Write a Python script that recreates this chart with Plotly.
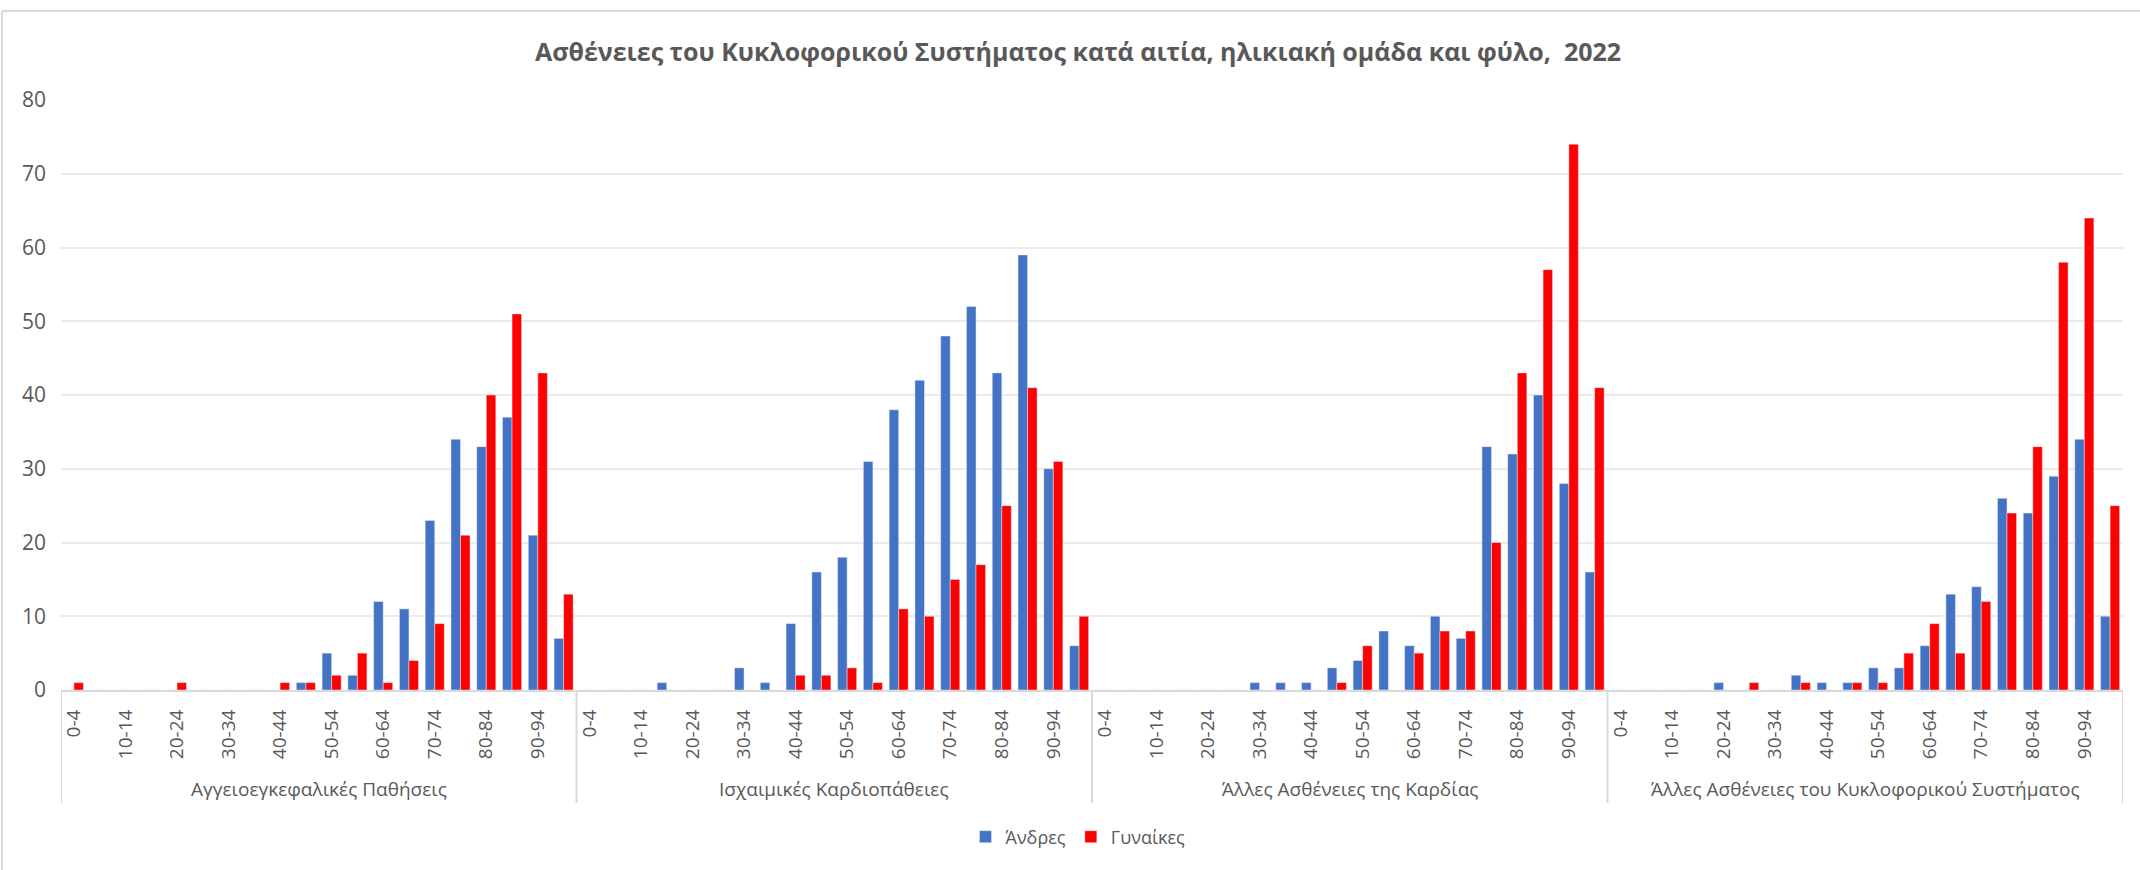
import plotly.graph_objects as go

# ---------------- data ----------------
ages = ["0-4", "5-9", "10-14", "15-19", "20-24", "25-29", "30-34", "35-39",
        "40-44", "45-49", "50-54", "55-59", "60-64", "65-69", "70-74",
        "75-79", "80-84", "85-89", "90-94", "95+"]

causes = ["Αγγειοεγκεφαλικές Παθήσεις",
          "Ισχαιμικές Καρδιοπάθειες",
          "Άλλες Ασθένειες της Καρδίας",
          "Άλλες Ασθένειες του Κυκλοφορικού Συστήματος"]

men_cerebro = [0, 0, 0, 0, 0, 0, 0, 0, 0, 1, 5, 2, 12, 11, 23, 34, 33, 37, 21, 7]
women_cerebro = [1, 0, 0, 0, 1, 0, 0, 0, 1, 1, 2, 5, 1, 4, 9, 21, 40, 51, 43, 13]

men_ischemic = [0, 0, 0, 1, 0, 0, 3, 1, 9, 16, 18, 31, 38, 42, 48, 52, 43, 59, 30, 6]
women_ischemic = [0, 0, 0, 0, 0, 0, 0, 0, 2, 2, 3, 1, 11, 10, 15, 17, 25, 41, 31, 10]

men_heart = [0, 0, 0, 0, 0, 0, 1, 1, 1, 3, 4, 8, 6, 10, 7, 33, 32, 40, 28, 16]
women_heart = [0, 0, 0, 0, 0, 0, 0, 0, 0, 1, 6, 0, 5, 8, 8, 20, 43, 57, 74, 41]

men_other = [0, 0, 0, 0, 1, 0, 0, 2, 1, 1, 3, 3, 6, 13, 14, 26, 24, 29, 34, 10]
women_other = [0, 0, 0, 0, 0, 1, 0, 1, 0, 1, 1, 5, 9, 5, 12, 24, 33, 58, 64, 25]

series_names = ["Άνδρες", "Γυναίκες"]
title_text = "Ασθένειες του Κυκλοφορικού Συστήματος κατά αιτία, ηλικιακή ομάδα και φύλο,  2022"

y_ticks = [0, 10, 20, 30, 40, 50, 60, 70, 80]

# ---------------- layout helpers ----------------
W, H = 2140, 870
ML, MR, MT, MB = 61, 17, 100, 180
PW, PH = W - ML - MR, H - MT - MB


def px_x(px):
    return (px - ML) / PW


def px_y(py):
    return (H - MB - py) / PH


n = len(ages)
men_all = men_cerebro + men_ischemic + men_heart + men_other
women_all = women_cerebro + women_ischemic + women_heart + women_other
x_pos = [g * n + i for g in range(len(causes)) for i in range(n)]
age_all = [a for _ in causes for a in ages]
cause_all = [c for c in causes for _ in ages]

tick_vals = [g * n + i for g in range(len(causes)) for i in range(0, n, 2)]
tick_text = [ages[i] for _ in causes for i in range(0, n, 2)]

BLUE = "#4472C4"
RED = "#FF0000"
TXT = "#595959"
LINE = "#D9D9D9"

fig = go.Figure()
fig.add_trace(go.Bar(x=x_pos, y=men_all, name=series_names[0], marker_color=BLUE,
                     customdata=list(zip(cause_all, age_all)),
                     hovertemplate="%{customdata[0]}<br>%{customdata[1]}: %{y}<extra>Άνδρες</extra>"))
fig.add_trace(go.Bar(x=x_pos, y=women_all, name=series_names[1], marker_color=RED,
                     customdata=list(zip(cause_all, age_all)),
                     hovertemplate="%{customdata[0]}<br>%{customdata[1]}: %{y}<extra>Γυναίκες</extra>"))

shapes = []
# group dividers
for g in range(len(causes) + 1):
    shapes.append(dict(type="line", xref="x", yref="paper",
                       x0=g * n - 0.5, x1=g * n - 0.5, y0=0, y1=px_y(803),
                       line=dict(color=LINE, width=2)))
# chart border (top and left)
shapes.append(dict(type="line", xref="paper", yref="paper",
                   x0=px_x(2), x1=px_x(W + 5), y0=px_y(11), y1=px_y(11),
                   line=dict(color=LINE, width=2)))
shapes.append(dict(type="line", xref="paper", yref="paper",
                   x0=px_x(2), x1=px_x(2), y0=px_y(11), y1=px_y(H + 5),
                   line=dict(color=LINE, width=2)))

annotations = []
for g, c in enumerate(causes):
    annotations.append(dict(x=g * n + (n - 1) / 2, xref="x", y=px_y(789), yref="paper",
                            text=c, showarrow=False, xanchor="center", yanchor="middle",
                            font=dict(family="Open Sans", size=19, color=TXT)))

fig.update_layout(
    width=W, height=H,
    margin=dict(l=ML, r=MR, t=MT, b=MB, autoexpand=False),
    paper_bgcolor="white", plot_bgcolor="white",
    barmode="group", bargap=0.26, bargroupgap=0,
    title=dict(text=title_text, x=1078 / W, xanchor="center", xref="container",
               y=1 - 52 / H, yref="container", yanchor="middle",
               font=dict(family="Open Sans", size=25, color=TXT, weight="bold")),
    showlegend=True,
    legend=dict(orientation="h", x=px_x(1078), xanchor="center", y=px_y(837), yanchor="middle",
                font=dict(family="Open Sans", size=18, color=TXT), itemwidth=30,
                bgcolor="rgba(0,0,0,0)"),
    shapes=shapes,
    annotations=annotations,
    font=dict(family="Open Sans", color=TXT),
)

fig.update_xaxes(type="linear", range=[-0.5, len(causes) * n - 0.5],
                 tickmode="array", tickvals=tick_vals, ticktext=tick_text,
                 tickangle=-90, tickfont=dict(family="Open Sans", size=19, color=TXT),
                 ticks="", ticklabelstandoff=10,
                 showline=True, linecolor=LINE, linewidth=2,
                 showgrid=False, zeroline=False, fixedrange=True)
fig.update_yaxes(range=[0, 80], tickmode="array", tickvals=y_ticks,
                 tickfont=dict(family="Open Sans", size=21, color=TXT),
                 ticks="", ticklabelstandoff=14,
                 showgrid=True, gridcolor="#EBEBEB", gridwidth=2,
                 zeroline=False, showline=False, fixedrange=True)

fig.write_html("out.html", config={"displayModeBar": False},
               post_script="document.body.style.margin='0';document.body.style.overflow='hidden';")
